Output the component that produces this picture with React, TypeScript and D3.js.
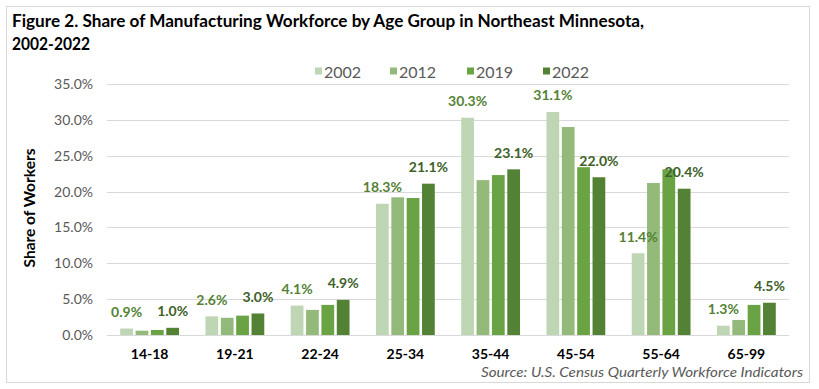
// @ts-nocheck
import React, { useRef, useEffect } from 'react';
import * as d3 from 'd3';

const ageGroups = ['14-18', '19-21', '22-24', '25-34', '35-44', '45-54', '55-64', '65-99'];
const years = ['2002', '2012', '2019', '2022'];
const share2002 = [0.9, 2.6, 4.1, 18.3, 30.3, 31.1, 11.4, 1.3];
const share2012 = [0.6, 2.4, 3.5, 19.2, 21.6, 29.0, 21.2, 2.1];
const share2019 = [0.7, 2.7, 4.2, 19.1, 22.3, 23.4, 23.1, 4.2];
const share2022 = [1.0, 3.0, 4.9, 21.1, 23.1, 22.0, 20.4, 4.5];
const yTicks = [0, 5, 10, 15, 20, 25, 30, 35];
const labelledYears = ['2002', '2022'];

const W = 819;
const H = 389;
const FONT = 'Lato, "Open Sans", sans-serif';

const App = () => {
  const svgRef = useRef(null);

  useEffect(() => {
    const svg = d3.select(svgRef.current);
    svg.selectAll('*').remove();

    const seriesValues = { '2002': share2002, '2012': share2012, '2019': share2019, '2022': share2022 };
    const colors = d3.scaleOrdinal().domain(years).range(['#BED6B3', '#93BA7A', '#6AA343', '#548235']);
    const labelColors = { '2002': '#548235', '2022': '#3D6128' };

    const x = d3.scaleBand().domain(ageGroups).range([107, 789]).paddingInner(0.31).paddingOuter(0.155);
    const xi = d3.scaleBand().domain(years).range([0, x.bandwidth()]).paddingInner(0.17);
    const y = d3.scaleLinear().domain([0, 35]).range([335, 84]);

    // outer border
    svg.append('rect')
      .attr('x', 6.5).attr('y', 6.5).attr('width', 803).attr('height', 376)
      .attr('fill', '#fff').attr('stroke', '#D9D9D9');

    // title
    const title = svg.append('text')
      .attr('font-family', FONT).attr('font-weight', 'bold').attr('font-size', 16.5).attr('fill', '#000');
    title.append('tspan').attr('x', 12).attr('y', 27)
      .attr('textLength', 632).attr('lengthAdjust', 'spacingAndGlyphs')
      .text('Figure 2. Share of Manufacturing Workforce by Age Group in Northeast Minnesota,');
    title.append('tspan').attr('x', 12).attr('y', 50)
      .attr('textLength', 78).attr('lengthAdjust', 'spacingAndGlyphs')
      .text('2002-2022');

    // gridlines + y labels
    svg.append('g').selectAll('line').data(yTicks).enter().append('line')
      .attr('x1', 107).attr('x2', 789)
      .attr('y1', d => Math.round(y(d)) + 0.5).attr('y2', d => Math.round(y(d)) + 0.5)
      .attr('stroke', '#D9D9D9').attr('stroke-width', 1);

    svg.append('g').selectAll('text').data(yTicks).enter().append('text')
      .attr('x', 93).attr('y', d => y(d) + 5)
      .attr('text-anchor', 'end')
      .attr('font-family', FONT).attr('font-size', 14).attr('fill', '#595959')
      .text(d => d3.format('.1f')(d) + '%');

    // y axis title
    svg.append('text')
      .attr('transform', 'translate(35,208) rotate(-90)')
      .attr('text-anchor', 'middle')
      .attr('font-family', FONT).attr('font-weight', 'bold').attr('font-size', 15.5).attr('fill', '#000')
      .text('Share of Workers');

    // bars
    const groups = svg.append('g').selectAll('g').data(ageGroups).enter().append('g')
      .attr('transform', d => `translate(${x(d)},0)`);

    years.forEach(yr => {
      groups.append('rect')
        .attr('x', d => xi(yr))
        .attr('width', xi.bandwidth())
        .attr('y', (d, i) => y(seriesValues[yr][i]))
        .attr('height', (d, i) => y(0) - y(seriesValues[yr][i]))
        .attr('fill', colors(yr));
    });

    labelledYears.forEach(yr => {
      groups.append('text')
        .attr('x', d => xi(yr) + xi.bandwidth() / 2)
        .attr('y', (d, i) => y(seriesValues[yr][i]) - 11.5)
        .attr('text-anchor', 'middle')
        .attr('font-family', FONT).attr('font-weight', 'bold').attr('font-size', 14)
        .attr('fill', labelColors[yr])
        .text((d, i) => d3.format('.1f')(seriesValues[yr][i]) + '%');
    });

    // category labels
    svg.append('g').selectAll('text').data(ageGroups).enter().append('text')
      .attr('x', d => x(d) + x.bandwidth() / 2).attr('y', 359)
      .attr('text-anchor', 'middle')
      .attr('font-family', FONT).attr('font-weight', 'bold').attr('font-size', 14).attr('fill', '#000')
      .text(d => d);

    // legend
    const legendX = [315, 390, 467, 543];
    const legend = svg.append('g').selectAll('g').data(years).enter().append('g')
      .attr('transform', (d, i) => `translate(${legendX[i]},0)`);
    legend.append('rect').attr('x', 0).attr('y', 67.5).attr('width', 7).attr('height', 7)
      .attr('fill', d => colors(d));
    legend.append('text').attr('x', 9).attr('y', 78)
      .attr('font-family', FONT).attr('font-size', 16).attr('fill', '#595959')
      .text(d => d);

    // source
    svg.append('text')
      .attr('x', 803).attr('y', 377).attr('text-anchor', 'end')
      .attr('font-family', FONT).attr('font-style', 'italic').attr('font-size', 13.5).attr('fill', '#595959')
      .attr('textLength', 322).attr('lengthAdjust', 'spacingAndGlyphs')
      .text('Source: U.S. Census Quarterly Workforce Indicators');
  }, []);

  return (
    <svg ref={svgRef} width={W} height={H}
      style={{ position: 'absolute', left: 0, top: 0, display: 'block', background: '#fff' }} />
  );
};

export default App;
